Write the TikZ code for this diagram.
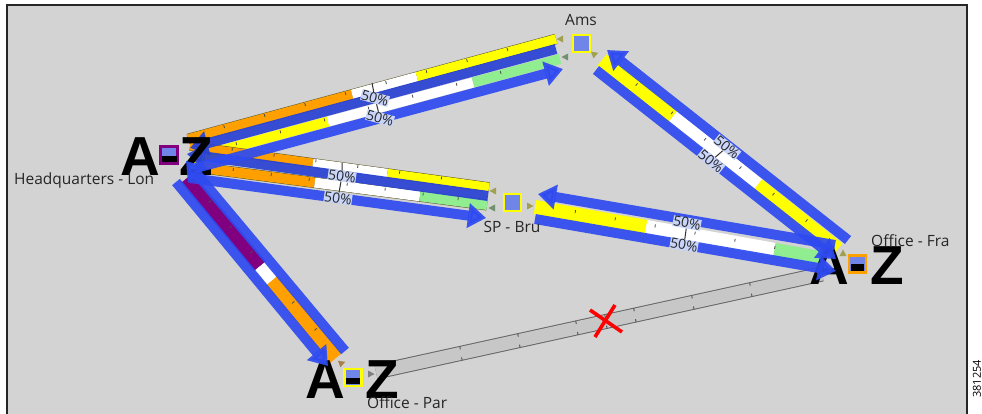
\documentclass[tikz,border=0pt]{standalone}
\usepackage{fontspec}
\setmainfont{Open Sans}
\newfontfamily\bigfont{Liberation Sans}
\usetikzlibrary{calc,arrows.meta}
\definecolor{bgray}{HTML}{D3D3D3}
\definecolor{linkblue}{HTML}{2F4BF0}
\definecolor{devblue}{HTML}{6F86E8}
\definecolor{lgreen}{HTML}{90EE90}
\definecolor{lorange}{HTML}{FFA000}
\definecolor{lpurple}{HTML}{800080}
\definecolor{lyellow}{HTML}{FFFF00}
\definecolor{pctbg}{HTML}{C8D4F8}
\definecolor{trolive}{HTML}{A0A050}
\definecolor{trgreen}{HTML}{709070}
\definecolor{trbrown}{HTML}{A88048}
\definecolor{trgray}{HTML}{808080}
\tikzset{
  bluearrow/.style={draw=linkblue,line width=10pt,opacity=.93,-{Triangle[length=18pt,width=24pt]}},
  pct/.style={font=\fontsize{14}{14}\selectfont,fill=pctbg,inner sep=0.3pt,text=black!85},
  devlabel/.style={font=\fontsize{15.5}{16}\selectfont,text=black!85,inner sep=0pt},
  bigletter/.style={font=\bigfont\fontsize{55}{55}\selectfont\bfseries,text=black,inner sep=0pt},
  device/.style={minimum size=17pt,inner sep=0pt,line width=2.4pt,fill=devblue},
  pctline/.style={draw=black!80,line width=1pt},
  redx/.style={draw=red,line width=3.6pt}
}
\newcommand{\stripseg}[6]{\draw[#5,line width=#6pt] ($(#1)!#3!(#2)$) -- ($(#1)!#4!(#2)$);}
\newcommand{\stripbase}[3]{\draw[draw=black!45!olive,line width=#3pt] (#1) -- (#2);}
\newcommand{\stripticks}[3]{\foreach \tt in {#3}{%
  \draw[black!70,line width=.8pt] ($($(#1)!\tt!(#2)$)!1pt!90:(#2)$) -- ($($(#1)!\tt!(#2)$)!4pt!90:(#2)$);}}
\newcommand{\trimark}[4]{\fill[#4,shift={(#1,#2)},rotate=#3] (3.5pt,0pt) -- (-3pt,3.5pt) -- (-3pt,-3.5pt) -- cycle;}
\begin{document}
\begin{tikzpicture}[x=1pt,y=-1pt]
\useasboundingbox (0,0) rectangle (982,414);
\fill[white] (0,0) rectangle (982,414);
\fill[bgray] (7,5) rectangle (967,414);
\draw[black!85,line width=1.2pt] (7,414) -- (7,5) -- (967,5) -- (967,414);

\coordinate (a1) at (188,139); \coordinate (a2) at (556,39);
\coordinate (b1) at (556,49);  \coordinate (b2) at (190,148);
\coordinate (c1) at (193,158); \coordinate (c2) at (560,59);
\coordinate (d1) at (196,168); \coordinate (d2) at (563,69);
\coordinate (e1) at (190,146); \coordinate (e2) at (489,187);
\coordinate (f1) at (488,196); \coordinate (f2) at (187,154);
\coordinate (g1) at (195,167); \coordinate (g2) at (487,205);
\coordinate (h1) at (190,178); \coordinate (h2) at (486,218);
\coordinate (i1) at (535,207); \coordinate (i2) at (820,258);
\coordinate (j1) at (835,245); \coordinate (j2) at (538,194);
\coordinate (k1) at (535,219); \coordinate (k2) at (836,271);
\coordinate (l1) at (602,60);  \coordinate (l2) at (838,249);
\coordinate (m1) at (848,240); \coordinate (m2) at (607,50);
\coordinate (n1) at (596,70);  \coordinate (n2) at (836,259);
\coordinate (o1) at (187,178); \coordinate (o2) at (336,358);
\coordinate (p1) at (345,351); \coordinate (p2) at (186,161);
\coordinate (q1) at (176,182); \coordinate (q2) at (328,366);
\coordinate (r1) at (376,372); \coordinate (r2) at (822,274);

% gray link Par-Fra
\draw[draw=black!60,line width=15pt] (r1) -- (r2);
\draw[draw=black!22,line width=13pt] (r1) -- (r2);
\foreach \tt in {.19,.32,.45,.515,.58,.71,.84}{\draw[black!65,line width=1pt] ($(r1)!\tt!(r2)$) ++(-1,-7) -- ++(.6,3);\draw[black!65,line width=1pt] ($(r1)!\tt!(r2)$) ++(.8,4) -- ++(.6,3);}

% Lon-Ams strips
\stripbase{a1}{a2}{10.5}
\stripseg{a1}{a2}{0}{.446}{lorange}{9.5}
\stripseg{a1}{a2}{.446}{.622}{white}{9.5}
\stripseg{a1}{a2}{.622}{1}{lyellow}{9.5}
\stripticks{a1}{a2}{.1,.21,.32,.43,.54,.65,.76,.87}
\stripseg{c1}{c2}{0}{.368}{lyellow}{10}
\stripseg{c1}{c2}{.368}{.763}{white}{10}
\stripseg{c1}{c2}{.763}{1}{lgreen}{10}
\stripticks{c1}{c2}{.12,.24,.36,.48,.6,.72,.84}

% Lon-Bru strips
\stripbase{e1}{e2}{9.5}
\stripseg{e1}{e2}{0}{.411}{lorange}{8.5}
\stripseg{e1}{e2}{.411}{.66}{white}{8.5}
\stripseg{e1}{e2}{.66}{1}{lyellow}{8.5}
\stripticks{e1}{e2}{.14,.28,.42,.56,.7,.84}
\stripbase{g1}{g2}{11}
\stripseg{g1}{g2}{0}{.41}{lorange}{10}
\stripseg{g1}{g2}{.41}{.77}{white}{10}
\stripseg{g1}{g2}{.77}{1}{lgreen}{10}
\stripticks{g1}{g2}{.13,.26,.39,.52,.65,.78,.9}

% Bru-Fra strip
\stripseg{i1}{i2}{0}{.39}{lyellow}{14}
\stripseg{i1}{i2}{.39}{.84}{white}{14}
\stripseg{i1}{i2}{.84}{1}{lgreen}{14}
\stripticks{i1}{i2}{.14,.28,.42,.56,.7,.84}

% Ams-Fra strip
\stripseg{l1}{l2}{0}{.30}{lyellow}{14}
\stripseg{l1}{l2}{.30}{.66}{white}{14}
\stripseg{l1}{l2}{.66}{1}{lyellow}{14}
\stripticks{l1}{l2}{.14,.29,.43,.58,.72,.86}

% Lon-Par strip
\stripseg{o1}{o2}{0}{.49}{lpurple}{15}
\stripseg{o1}{o2}{.49}{.57}{white}{15}
\stripseg{o1}{o2}{.57}{1}{lorange}{15}
\stripticks{o1}{o2}{.14,.28,.42,.7,.85}

% big letters and blue arrows
\node[bigletter] (fraA) at (829,266) {A};
\node[bigletter] (fraZ) at (887,266) {Z};
\node[bigletter] (parA) at (325,380) {A};
\node[bigletter] (parZ) at (382,380) {Z};
\node[bigletter] (lonA) at (140,157) {A};
\draw[bluearrow,draw=linkblue!88!black] (b1) -- (b2);
\draw[bluearrow,draw=linkblue!88!black] (f1) -- (f2);
\node[bigletter] (lonZ) at (196,157) {Z};
\draw[bluearrow] (d1) -- (d2);
\draw[bluearrow] (h1) -- (h2);
\draw[bluearrow] (j1) -- (j2);
\draw[bluearrow] (k1) -- (k2);
\draw[bluearrow] (m1) -- (m2);
\draw[bluearrow] (n1) -- (n2);
\draw[bluearrow] (p1) -- (p2);
\draw[bluearrow] (q1) -- (q2);

% devices
\node[device,draw=lpurple] (lon) at (169,155) {};
\fill[black] (162,156) rectangle (177,162);
\node[device,draw=lyellow] (ams) at (581.5,43.5) {};
\node[device,draw=lyellow] (bru) at (512.5,202.5) {};
\node[device,draw=lorange] (fra) at (857.5,264) {};
\fill[black] (851,264) rectangle (864,271);
\node[device,draw=lyellow] (par) at (353,377.5) {};
\fill[black] (346,378) rectangle (360,384);

% interface triangles
\trimark{560}{39}{180}{trolive}
\trimark{565}{57}{180}{trgreen}
\trimark{595}{54}{20}{trolive}
\trimark{493}{191}{180}{trolive}
\trimark{492}{208}{180}{trgreen}
\trimark{530}{206}{0}{trolive}
\trimark{843}{253}{90}{trolive}
\trimark{342}{363}{20}{trbrown}
\trimark{371}{374}{0}{trgray}

% percentages
\node[pct,rotate=-15] (p1a) at (375,98) {50\%};
\node[pct,rotate=-15] (p1b) at (380,118) {50\%};
\coordinate (p1top) at (372,83);
\draw[pctline] (p1top) -- (p1a);
\draw[pctline] (p1a) -- (p1b);
\node[pct,rotate=-8] (p2a) at (342,176) {50\%};
\node[pct,rotate=-8] (p2b) at (338,198) {50\%};
\coordinate (p2top) at (342,163);
\draw[pctline] (p2top) -- (p2a);
\draw[pctline] (p2a) -- (p2b);
\node[pct,rotate=-10] (p3a) at (687,223) {50\%};
\node[pct,rotate=-10] (p3b) at (684,245) {50\%};
\draw[pctline] (p3a) -- (p3b);
\node[pct,rotate=-39] (p4a) at (727,147) {50\%};
\node[pct,rotate=-39] (p4b) at (711,161) {50\%};
\draw[pctline] (p4a) -- (p4b);

% red cross
\draw[redx] (590,310) -- (622,332);
\draw[redx] (615,305) -- (595,337);

% labels
\node[devlabel,anchor=west] (lonl) at (14,180) {Headquarters - Lon};
\node[devlabel] (amsl) at (581,20) {Ams};
\node[devlabel] (brul) at (512,227) {SP - Bru};
\node[devlabel,anchor=west] (fral) at (871,241) {Office - Fra};
\node[devlabel,anchor=west] (parl) at (367,403) {Office - Par};
\node[font=\fontsize{11}{12}\selectfont,rotate=90,inner sep=0pt] (id) at (977,379) {381254};
\end{tikzpicture}
\end{document}
